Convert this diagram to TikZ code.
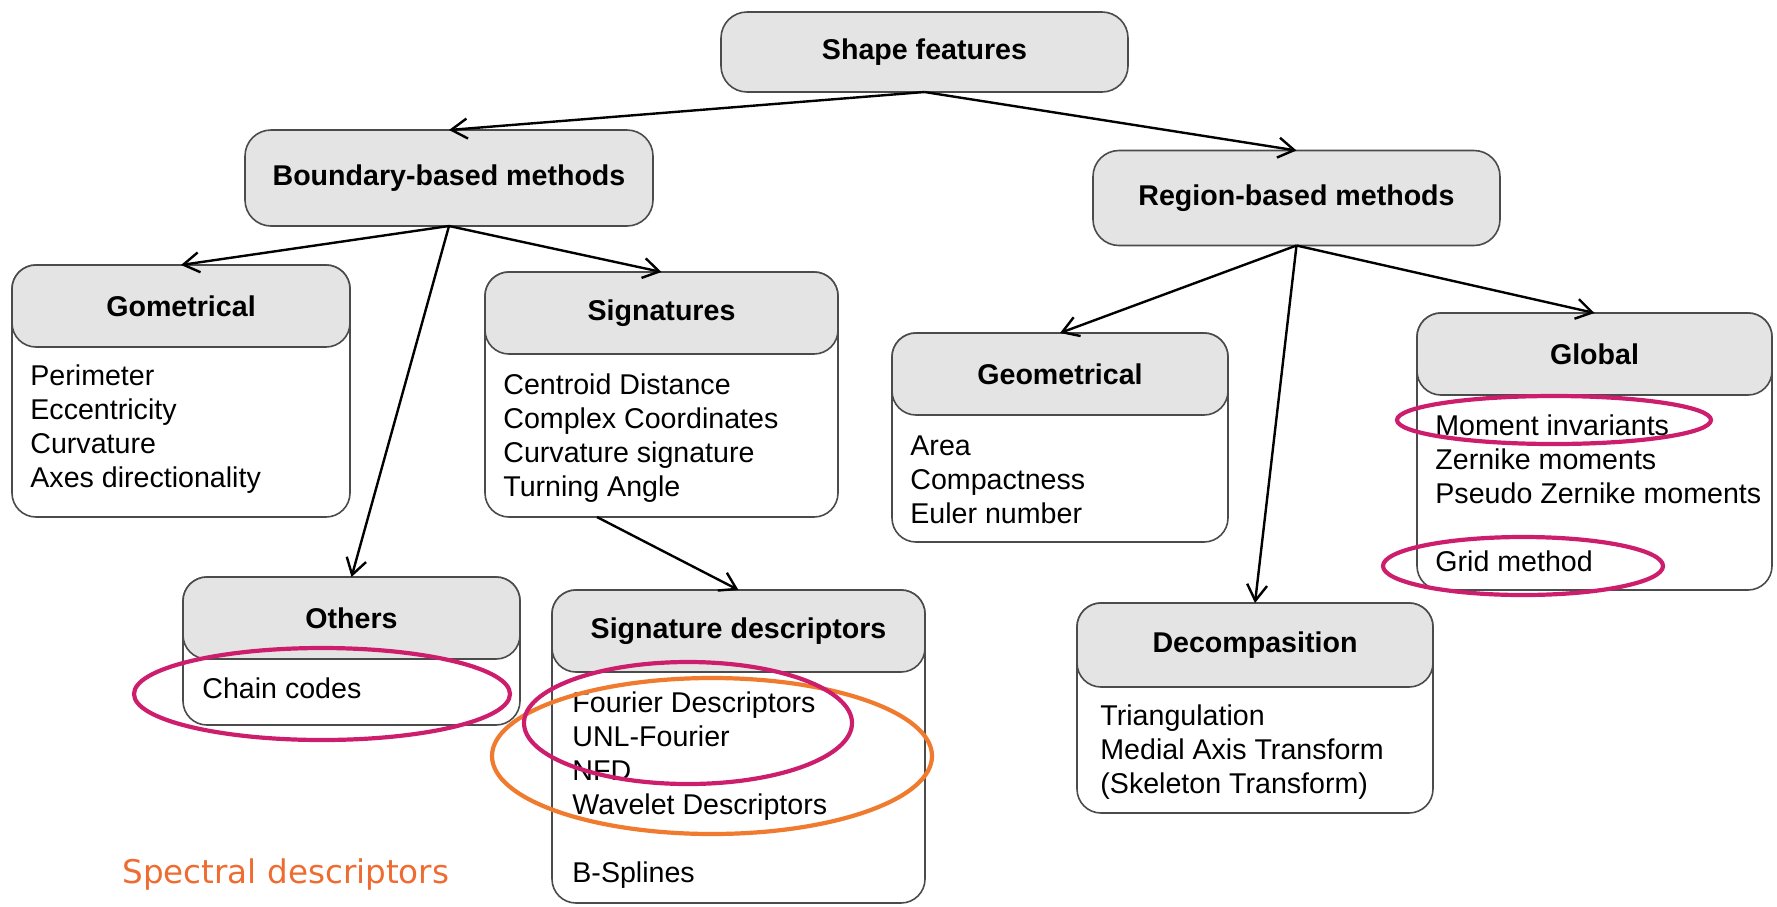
\documentclass[tikz,border=0pt]{standalone}
\usepackage{fontspec}
\setmainfont{Liberation Sans}
\newfontfamily\spectralfont{DejaVu Sans}
\usetikzlibrary{arrows.meta,calc}
\definecolor{edge}{RGB}{75,75,75}
\definecolor{capfill}{RGB}{228,228,228}
\definecolor{ringpink}{RGB}{205,30,110}
\definecolor{ringorange}{RGB}{240,122,45}
\definecolor{spectral}{RGB}{238,108,50}

\begin{document}
\begin{tikzpicture}[x=0.5pt,y=-0.5pt,
  pill/.style={draw=edge, fill=capfill, rounded corners=13pt, line width=0.8pt,
    inner sep=0pt, outer sep=0pt, font=\bfseries\fontsize{14.3}{17}\selectfont},
  card/.style={draw=edge, fill=white, rounded corners=12pt, line width=0.8pt,
    inner sep=0pt, outer sep=0pt, anchor=north west},
  headband/.style={pill, rounded corners=12pt, anchor=north, minimum height=41pt},
  items/.style={anchor=north west, align=left, inner sep=0pt,
    font=\fontsize{14.3}{17}\selectfont},
  link/.style={line width=1.2pt, -{Straight Barb[length=8pt,width=10pt,line width=1.2pt]}},
  ring/.style={line width=2.1pt},
]
\useasboundingbox (0,0) rectangle (1777,906);

% top levels
\node[pill, minimum width=203.5pt, minimum height=40pt] (sf) at (924.5,52) {Shape features};
\node[pill, minimum width=204pt, minimum height=48pt] (bnd) at (449,178) {Boundary-based methods};
\node[pill, minimum width=203.5pt, minimum height=47.5pt] (reg) at (1296.5,198) {Region-based methods};

% boundary-based families
\node[card, minimum width=169pt, minimum height=126pt] (gom) at (12,265) {};
\node[headband, minimum width=169pt] (gomh) at (gom.north) {Gometrical};
\node[items] (gomt) at (30,364) {Perimeter\\Eccentricity\\Curvature\\Axes directionality};

\node[card, minimum width=176.5pt, minimum height=122.5pt] (sig) at (485,272) {};
\node[headband, minimum width=176.5pt] (sigh) at (sig.north) {Signatures};
\node[items] (sigt) at (503,373) {Centroid Distance\\Complex Coordinates\\Curvature signature\\Turning Angle};

\node[card, minimum width=168.5pt, minimum height=74pt] (oth) at (183,577) {};
\node[headband, minimum width=168.5pt] (othh) at (oth.north) {Others};
\node[items] (otht) at (202,677) {Chain codes};

\node[card, minimum width=186.5pt, minimum height=156.5pt] (sd) at (552,590) {};
\node[headband, minimum width=186.5pt] (sdh) at (sd.north) {Signature descriptors};
\node[items] (sdt) at (572,691) {Fourier Descriptors\\UNL-Fourier\\NFD\\Wavelet Descriptors\\[17pt]B-Splines};

% region-based families
\node[card, minimum width=168pt, minimum height=104.5pt] (geo) at (892,333) {};
\node[headband, minimum width=168pt] (geoh) at (geo.north) {Geometrical};
\node[items] (geot) at (910,435) {Area\\Compactness\\Euler number};

\node[card, minimum width=177.5pt, minimum height=138.5pt] (glb) at (1417,313) {};
\node[headband, minimum width=177.5pt] (glbh) at (glb.north) {Global};
\node[items] (glbt) at (1435,414) {Moment invariants\\Zernike moments\\Pseudo Zernike moments\\[17pt]Grid method};

\node[card, minimum width=178pt, minimum height=105pt] (dec) at (1077,603) {};
\node[headband, minimum width=178pt, minimum height=42pt] (dech) at (dec.north) {Decompasition};
\node[items] (dect) at (1100,704) {Triangulation\\Medial Axis Transform\\(Skeleton Transform)};

% connectors
\draw[link] (sf.south) -- (bnd.north);
\draw[link] (sf.south) -- (reg.north);
\draw[link] (bnd.south) -- (gom.north);
\draw[link] (bnd.south) -- (sig.north);
\draw[link] (bnd.south) -- (oth.north);
\coordinate (sigfoot) at ($(sig.south west)!0.317!(sig.south east)$);
\draw[link] (sigfoot) -- (sd.north);
\draw[link] (reg.south) -- (geo.north);
\draw[link] (reg.south) -- (glb.north);
\draw[link] (reg.south) -- (dec.north);

% caption
\node[anchor=base west, inner sep=0pt, text=spectral,
  font=\spectralfont\fontsize{16.3}{19}\selectfont] (spec) at (122,883) {Spectral descriptors};

% highlight rings
\draw[ring, draw=ringorange] (712,756) ellipse [x radius=110pt, y radius=39pt];
\draw[ring, draw=ringpink] (688,723) ellipse [x radius=82pt, y radius=30.5pt];
\draw[ring, draw=ringpink] (322,694) ellipse [x radius=94pt, y radius=23pt];
\draw[ring, draw=ringpink] (1554,420) ellipse [x radius=78.5pt, y radius=12pt];
\draw[ring, draw=ringpink] (1523,566) ellipse [x radius=70pt, y radius=14.5pt];
\end{tikzpicture}
\end{document}
